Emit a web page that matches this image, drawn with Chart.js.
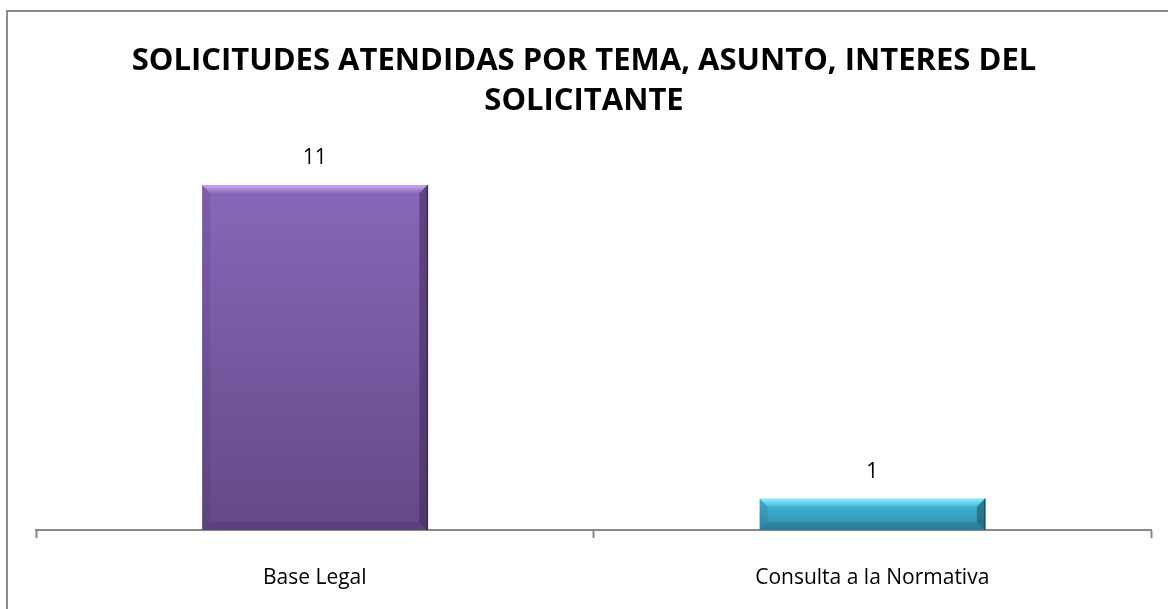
<!DOCTYPE html>
<html lang="es">
  <head>
    <meta charset="UTF-8">
    <title>Solicitudes atendidas por tema</title>
    <script src="https://cdn.jsdelivr.net/npm/chart.js"></script>
    <style>
      html, body { margin: 0; padding: 0; background: #fff; }
      #wrap { width: 1168px; height: 609px; position: relative; }
    </style>
  </head>
  <body>
    <div id="wrap">
      <canvas id="myChart" width="1168" height="609"></canvas>
    </div>
    <script>
      // Data
      const categories = ["Base Legal", "Consulta a la Normativa"];
      const requests = [11, 1];
      const titleLines = ["SOLICITUDES ATENDIDAS POR TEMA, ASUNTO, INTERES DEL", "SOLICITANTE"];

      // top / bottom / highlight colours of each bar
      const barTop = ["#8767B8", "#46BAD9"];
      const barBottom = ["#654888", "#2F8DAB"];
      const barLight = ["#CBA8F2", "#8CEEFF"];
      const barDark = ["#3E2A58", "#174E62"];

      // vertical gradient per bar, built from the y scale
      function barFill(context) {
        const chart = context.chart;
        const yScale = chart.scales.y;
        const i = context.dataIndex;
        if (!chart.chartArea || !yScale) return barTop[i];
        const y0 = yScale.getPixelForValue(requests[i]);
        const y1 = yScale.getPixelForValue(0);
        if (!isFinite(y0) || !isFinite(y1) || y0 === y1) return barTop[i];
        const g = chart.ctx.createLinearGradient(0, y0, 0, y1);
        g.addColorStop(0, barTop[i]);
        g.addColorStop(1, barBottom[i]);
        return g;
      }

      // outer frame of the picture
      const framePlugin = {
        id: "frame",
        afterDraw(chart) {
          const ctx = chart.ctx;
          ctx.save();
          ctx.strokeStyle = "#8c8c8c";
          ctx.lineWidth = 2;
          ctx.strokeRect(7, 11, chart.width + 10, chart.height + 10);
          ctx.restore();
        }
      };

      // bevel highlights and value labels above the bars
      const bevelPlugin = {
        id: "bevel",
        afterDatasetsDraw(chart) {
          const ctx = chart.ctx;
          const meta = chart.getDatasetMeta(0);
          ctx.save();
          meta.data.forEach((bar, i) => {
            const left = bar.x - bar.width / 2;
            const right = bar.x + bar.width / 2;
            const top = bar.y;
            const bottom = bar.base;
            const b = Math.min(8, (bottom - top) / 2);
            // top bevel
            let g = ctx.createLinearGradient(0, top, 0, top + b);
            g.addColorStop(0, barLight[i]);
            g.addColorStop(1, barTop[i]);
            ctx.fillStyle = g;
            ctx.beginPath();
            ctx.moveTo(left, top);
            ctx.lineTo(right, top);
            ctx.lineTo(right - b, top + b);
            ctx.lineTo(left + b, top + b);
            ctx.closePath();
            ctx.fill();
            // right bevel
            ctx.globalAlpha = 0.55;
            ctx.fillStyle = barDark[i];
            ctx.beginPath();
            ctx.moveTo(right, top);
            ctx.lineTo(right, bottom);
            ctx.lineTo(right - b, bottom - b);
            ctx.lineTo(right - b, top + b);
            ctx.closePath();
            ctx.fill();
            // bottom bevel
            ctx.globalAlpha = 0.25;
            ctx.beginPath();
            ctx.moveTo(left, bottom);
            ctx.lineTo(right, bottom);
            ctx.lineTo(right - b, bottom - b);
            ctx.lineTo(left + b, bottom - b);
            ctx.closePath();
            ctx.fill();
            // left bevel
            ctx.globalAlpha = 0.15;
            ctx.beginPath();
            ctx.moveTo(left, top);
            ctx.lineTo(left + b, top + b);
            ctx.lineTo(left + b, bottom - b);
            ctx.lineTo(left, bottom);
            ctx.closePath();
            ctx.fill();
            ctx.globalAlpha = 1;
            // edge line on the right side
            ctx.strokeStyle = barDark[i];
            ctx.lineWidth = 1.5;
            ctx.beginPath();
            ctx.moveTo(right, top);
            ctx.lineTo(right, bottom);
            ctx.stroke();
            // value label
            ctx.fillStyle = "#000";
            ctx.font = "21px 'Open Sans', sans-serif";
            ctx.textAlign = "center";
            ctx.textBaseline = "middle";
            ctx.fillText(String(requests[i]), bar.x, top - 27);
          });
          ctx.restore();
        }
      };

      // hidden side axes only reserve the left/right margins, so the title stays centred on the page
      const hiddenAxis = (width, position) => ({
        position: position,
        display: true,
        min: 0,
        max: 12,
        afterFit(scale) { scale.width = width; },
        grid: { display: false },
        border: { display: false },
        ticks: { display: false }
      });

      const ctx = document.getElementById("myChart").getContext("2d");
      const chart = new Chart(ctx, {
        type: "bar",
        data: {
          labels: categories,
          datasets: [{
            label: "Solicitudes",
            data: requests,
            backgroundColor: barFill,
            borderWidth: 0,
            barPercentage: 0.404,
            categoryPercentage: 1,
            yAxisID: "y"
          }]
        },
        options: {
          responsive: false,
          animation: false,
          devicePixelRatio: 1,
          layout: { padding: 0 },
          plugins: {
            legend: { display: false },
            tooltip: { enabled: false },
            title: {
              display: true,
              text: titleLines,
              color: "#000",
              font: { family: "'Open Sans', sans-serif", size: 31, weight: "bold", lineHeight: 1.29 },
              padding: { top: 41, bottom: 33 }
            }
          },
          scales: {
            x: {
              afterFit(scale) { scale.height = 79; },
              grid: {
                display: true,
                drawOnChartArea: false,
                drawTicks: true,
                tickLength: 8,
                tickWidth: 2,
                tickColor: "#888888",
                offset: true
              },
              border: { display: true, color: "#888888", width: 2 },
              ticks: {
                color: "#000",
                padding: 27,
                font: { family: "'Open Sans', sans-serif", size: 21 }
              }
            },
            y: hiddenAxis(36, "left"),
            yRight: hiddenAxis(17, "right")
          }
        },
        plugins: [bevelPlugin, framePlugin]
      });
    </script>
  </body>
</html>
